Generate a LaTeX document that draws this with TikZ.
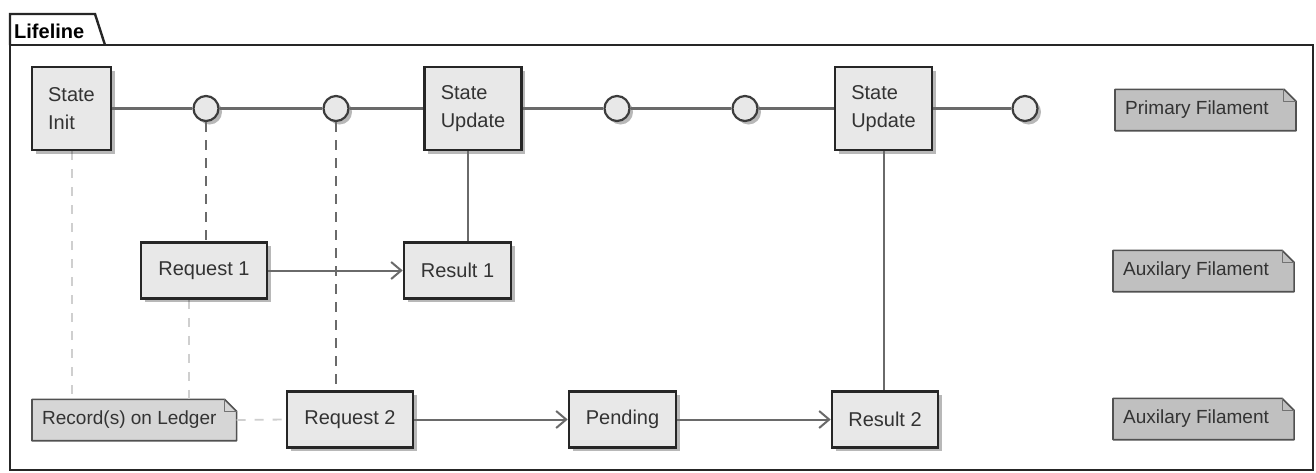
\documentclass[tikz,border=0pt]{standalone}
\usepackage{fontspec}
\setmainfont{Liberation Sans}
\usetikzlibrary{arrows.meta,backgrounds,shadows}

\definecolor{ink}{HTML}{262626}
\definecolor{label}{HTML}{333333}
\definecolor{boxfill}{HTML}{E8E8E8}
\definecolor{notedark}{HTML}{C0C0C0}
\definecolor{notelight}{HTML}{D6D6D6}
\definecolor{wire}{HTML}{6A6A6A}
\definecolor{faint}{HTML}{CFCFCF}

\begin{document}
\begin{tikzpicture}[x=1pt,y=-1pt,
  softshadow/.style={drop shadow={shadow xshift=3.5pt,shadow yshift=-3.5pt,fill=black,opacity=0.28}},
  stepbox/.style={draw=ink, line width=2.6pt, fill=boxfill, text=label,
    font=\fontsize{20}{28}\selectfont, inner sep=0pt, softshadow},
  statebox/.style={stepbox, minimum width=97pt, minimum height=83pt, align=left},
  flowbox/.style={stepbox, minimum height=56pt},
  event/.style={circle, draw=ink!90, line width=2.2pt, fill=boxfill,
    minimum size=25pt, inner sep=0pt, softshadow},
  notetext/.style={font=\fontsize{19}{19}\selectfont, text=label,
    minimum height=41pt, inner xsep=10pt, anchor=west},
  timeline/.style={draw=wire, line width=2.3pt},
  link/.style={draw=wire, line width=2pt},
  trigger/.style={draw=wire, line width=2pt, dash pattern=on 10pt off 8pt},
  record/.style={draw=faint, line width=1.8pt, dash pattern=on 9pt off 9pt},
  flow/.style={draw=wire, line width=2pt,
    -{Straight Barb[length=10pt,width=17pt,line width=2pt]}},
]
\useasboundingbox (0,0) rectangle (1316,472);

% package frame with its tab
\draw[ink, line width=2.4pt] (10,45) rectangle (1313,470);
\draw[ink, line width=2.4pt, line join=miter] (10,45) -- (10,14) -- (95,14) -- (105,45);
\node[font=\bfseries\fontsize{20}{20}\selectfont, anchor=west, inner sep=0pt] (tabtitle) at (14,31) {Lifeline};

% primary filament: states and events
\node[stepbox, minimum width=79pt, minimum height=83pt, align=left] (init) at (71.5,108.5) {State\\Init};
\node[event] (e1) at (206,108.5) {};
\node[event] (e2) at (336,108.5) {};
\node[statebox] (su1) at (473,108.5) {State\\Update};
\node[event] (e3) at (617,108.5) {};
\node[event] (e4) at (745,108.5) {};
\node[statebox] (su2) at (883.5,108.5) {State\\Update};
\node[event] (e5) at (1025,108.5) {};

% auxiliary filaments
\node[flowbox, minimum width=126pt] (req1) at (204,270.5) {Request 1};
\node[flowbox, minimum width=107pt] (res1) at (457.5,270.5) {Result 1};
\node[flowbox, minimum width=126pt] (req2) at (350,419.5) {Request 2};
\node[flowbox, minimum width=107pt] (pend) at (622.5,419.5) {Pending};
\node[flowbox, minimum width=106pt] (res2) at (885,419.5) {Result 2};

% notes (extra room on the right for the folded corner)
\node[notetext] (nprim) at (1115,110) {Primary Filament\kern17pt};
\node[notetext] (naux1) at (1113,271) {Auxilary Filament\kern15pt};
\node[notetext] (naux2) at (1113,419) {Auxilary Filament\kern15pt};
\node[notetext] (nrec) at (32,420) {Record(s) on Ledger\kern10pt};

\begin{scope}[on background layer]
  \fill[white] (0,0) rectangle (1316,472);

  % folded-corner note outlines
  \foreach \n/\c in {nprim/notedark, naux1/notedark, naux2/notedark, nrec/notelight} {
    \fill[black, opacity=0.28, shift={(3.5pt,-3.5pt)}]
      (\n.south west) -- (\n.north west) -- ([xshift=-12pt]\n.north east)
      -- ([yshift=-12pt]\n.north east) -- (\n.south east) -- cycle;
    \filldraw[fill=\c, draw=ink!80, line width=1.6pt, line join=round]
      (\n.south west) -- (\n.north west) -- ([xshift=-12pt]\n.north east)
      -- ([yshift=-12pt]\n.north east) -- (\n.south east) -- cycle;
    \draw[ink!65, line width=1pt, line join=round]
      ([xshift=-12pt]\n.north east) -- ([xshift=-12pt,yshift=-12pt]\n.north east)
      -- ([yshift=-12pt]\n.north east);
  }

  % ledger record links
  \draw[record] ([xshift=0.5pt]init.south) -- ([xshift=0.5pt]init.south |- nrec.north);
  \draw[record] ([xshift=-15pt]req1.south) -- ([xshift=-15pt]req1.south |- nrec.north);
  \draw[record] (nrec.east) -- (req2.west);
\end{scope}

% primary timeline
\draw[timeline] (init) -- (e1);
\draw[timeline] (e1) -- (e2);
\draw[timeline] (e2) -- (su1);
\draw[timeline] (su1) -- (e3);
\draw[timeline] (e3) -- (e4);
\draw[timeline] (e4) -- (su2);
\draw[timeline] (su2) -- (e5);

% triggers and results
\draw[trigger] (e1.south) -- (e1.south |- req1.north);
\draw[trigger] (e2.south) -- (e2.south |- req2.north);
\draw[link] ([xshift=-5pt]su1.south) -- ([xshift=-5pt]su1.south |- res1.north);
\draw[link] (su2.south) -- (su2.south |- res2.north);

% request flows
\draw[flow] (req1) -- (res1);
\draw[flow] (req2) -- (pend);
\draw[flow] (pend) -- (res2);
\end{tikzpicture}
\end{document}
